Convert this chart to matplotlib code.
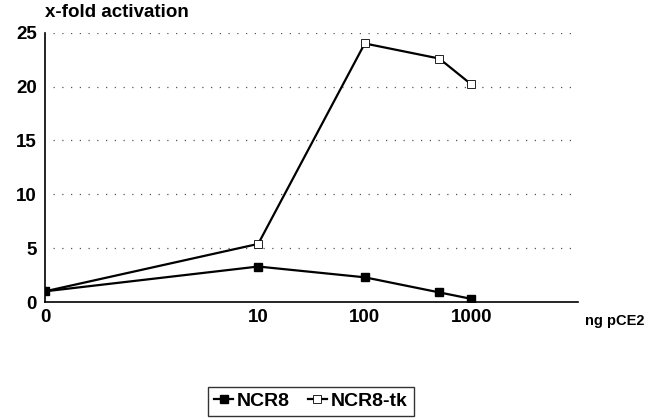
import matplotlib

matplotlib.use("Agg")
import matplotlib.pyplot as plt

plt.rcParams["font.family"] = ["Liberation Sans", "DejaVu Sans"]
plt.rcParams["font.weight"] = "bold"

# dose of pCE2 (ng); 0 is drawn at the left edge of the log axis
doses = [0, 10, 100, 500, 1000]
ncr8 = [1.0, 3.3, 2.3, 0.9, 0.3]
ncr8_tk = [1.0, 5.4, 24.0, 22.6, 20.2]
tick_doses = [0, 10, 100, 1000]
tick_labels = ["0", "10", "100", "1000"]
ZERO_POS = 0.1


def xpos(values):
    return [ZERO_POS if v == 0 else v for v in values]


def main():
    fig = plt.figure(figsize=(6.53, 4.19), dpi=100)
    ax = fig.add_axes([0.069, 0.279, 0.816, 0.643])

    ax.set_xscale("log")
    ax.set_xlim(0.1, 10000)
    ax.set_ylim(0, 25)

    ax.plot(xpos(doses), ncr8_tk, color="black", linewidth=1.6,
            marker="s", markersize=5.5, markerfacecolor="white",
            markeredgecolor="black", markeredgewidth=0.6,
            label="NCR8-tk", zorder=3)
    ax.plot(xpos(doses), ncr8, color="black", linewidth=1.6,
            marker="s", markersize=5.5, markerfacecolor="black",
            markeredgecolor="black", label="NCR8", zorder=4)

    # dotted gridlines
    for y in range(5, 26, 5):
        ax.axhline(y, xmin=0.015, xmax=1.0, color="#555555",
                   linewidth=0.9, linestyle=(0, (1, 6)), zorder=1)

    ax.set_xticks(xpos(tick_doses))
    ax.set_xticklabels(tick_labels)
    ax.xaxis.set_minor_locator(matplotlib.ticker.NullLocator())
    ax.set_yticks(range(0, 26, 5))
    ax.tick_params(axis="both", length=0, labelsize=13.5)
    ax.tick_params(axis="y", pad=6)
    ax.tick_params(axis="x", pad=5)
    for lbl in ax.get_xticklabels() + ax.get_yticklabels():
        lbl.set_fontweight("bold")

    ax.spines["top"].set_visible(False)
    ax.spines["right"].set_visible(False)
    for s in ("left", "bottom"):
        ax.spines[s].set_linewidth(1.2)
        ax.spines[s].set_color("black")

    fig.text(0.069, 0.99, "x-fold activation", fontsize=13.5,
             fontweight="bold", ha="left", va="top")
    fig.text(0.896, 0.235, "ng pCE2", fontsize=10.5, fontweight="bold",
             ha="left", va="center")

    handles, labels = ax.get_legend_handles_labels()
    leg = fig.legend(handles[::-1], labels[::-1], loc="upper center",
                     bbox_to_anchor=(0.476, 0.077),
                     ncol=2, frameon=True, fancybox=False, fontsize=14,
                     handlelength=1.0, handletextpad=0.2, columnspacing=0.9,
                     borderpad=0.3, borderaxespad=0)
    leg.get_frame().set_edgecolor("black")
    leg.get_frame().set_linewidth(1.0)
    for t in leg.get_texts():
        t.set_fontweight("bold")

    fig.savefig("out.png", dpi=100)


if __name__ == "__main__":
    main()
